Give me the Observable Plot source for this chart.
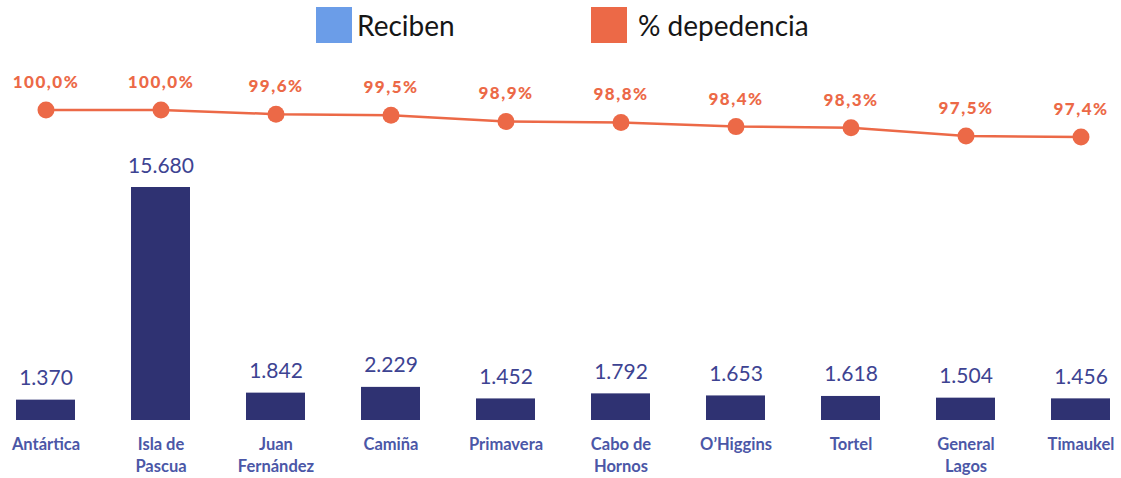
<!DOCTYPE html>
<html>
<head>
<meta charset="utf-8">
<script src="https://cdn.jsdelivr.net/npm/d3@7"></script>
<script src="https://cdn.jsdelivr.net/npm/@observablehq/plot@0.6"></script>
<style>
  html, body { margin: 0; padding: 0; background: #fff; }
  #wrap { position: relative; width: 1121px; height: 478px; overflow: hidden; font-family: Lato, "Open Sans", sans-serif; }
  #wrap svg { position: absolute; left: 0; top: 0; }
  .lg-sw { position: absolute; width: 36px; height: 36px; top: 7px; }
  .lg-tx { position: absolute; top: 6px; font-size: 28px; line-height: 38px; color: #161616; }
</style>
</head>
<body>
<div id="wrap">
  <div class="lg-sw" style="left:316px;background:#6b9de8"></div>
  <div class="lg-tx" style="left:357px">Reciben</div>
  <div class="lg-sw" style="left:591px;background:#ec6947"></div>
  <div class="lg-tx" style="left:638px">% depedencia</div>
</div>
<script>
const comunas = ["Antártica", "Isla de Pascua", "Juan Fernández", "Camiña", "Primavera", "Cabo de Hornos", "O’Higgins", "Tortel", "General Lagos", "Timaukel"];
const etiquetas = ["Antártica", "Isla de\nPascua", "Juan\nFernández", "Camiña", "Primavera", "Cabo de\nHornos", "O’Higgins", "Tortel", "General\nLagos", "Timaukel"];
const reciben = [1370, 15680, 1842, 2229, 1452, 1792, 1653, 1618, 1504, 1456];
const dependencia = [100.0, 100.0, 99.6, 99.5, 98.9, 98.8, 98.4, 98.3, 97.5, 97.4];

const data = comunas.map((c, i) => ({comuna: c, etiqueta: etiquetas[i], reciben: reciben[i], dep: dependencia[i]}));

const fmtN = d3.format(",");
const numLabel = v => fmtN(v).replace(/,/g, ".");
const pctLabel = v => v.toFixed(1).replace(".", ",") + "%";

const xScale = {type: "band", domain: comunas, range: [14, 1112], paddingInner: 0.489, paddingOuter: 0, axis: null};

const bars = Plot.plot({
  width: 1121, height: 478,
  marginTop: 0, marginBottom: 0, marginLeft: 0, marginRight: 0,
  style: {background: "transparent", overflow: "visible"},
  x: xScale,
  y: {domain: [0, 15680], range: [420, 187], axis: null},
  marks: [
    Plot.barY(data, {x: "comuna", y: "reciben", fill: "#2f3272"}),
    Plot.text(data, {x: "comuna", y: "reciben", text: d => numLabel(d.reciben), lineAnchor: "bottom", dy: -15,
      fill: "#3d4392", fontSize: 21, fontFamily: "Lato, sans-serif", fontWeight: 400}),
    Plot.text(data, {x: "comuna", text: "etiqueta", frameAnchor: "top", lineAnchor: "top", dy: 434, lineHeight: 1.32,
      fill: "#4b57a7", fontSize: 16.5, fontFamily: "Lato, sans-serif", fontWeight: 700})
  ]
});

const line = Plot.plot({
  width: 1121, height: 478,
  marginTop: 0, marginBottom: 0, marginLeft: 0, marginRight: 0,
  style: {background: "transparent", overflow: "visible"},
  x: xScale,
  y: {domain: [97.4, 100], range: [136.5, 109.5], axis: null},
  marks: [
    Plot.line(data, {x: "comuna", y: "dep", stroke: "#ec6947", strokeWidth: 2.5}),
    Plot.dot(data, {x: "comuna", y: "dep", r: 8.5, fill: "#ec6947", stroke: "none"}),
    Plot.text(data, {x: "comuna", y: "dep", text: d => pctLabel(d.dep), lineAnchor: "bottom", dy: -22,
      fill: "#ec6947", fontSize: 17, fontFamily: "Lato, sans-serif", fontWeight: 900})
  ]
});

const wrap = document.getElementById("wrap");
wrap.appendChild(bars);
wrap.appendChild(line);
line.querySelectorAll("text").forEach(t => t.style.letterSpacing = "1.5px");
</script>
</body>
</html>
